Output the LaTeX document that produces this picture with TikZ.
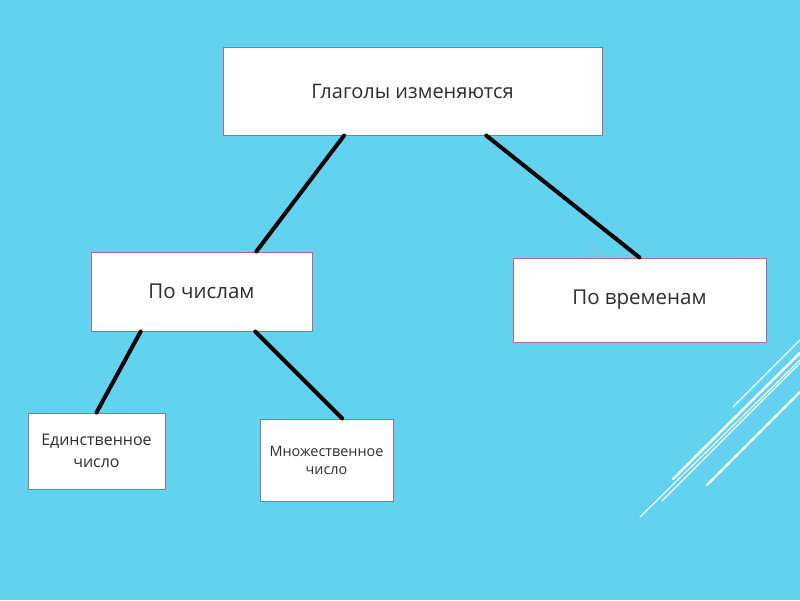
\documentclass[tikz,border=0pt]{standalone}
\usepackage{fontspec}
\setmainfont{Open Sans}
\usepackage{xcolor}
\usetikzlibrary{calc}
\definecolor{Sky}{HTML}{62D3EF}
\definecolor{Plum}{HTML}{B8609A}
\definecolor{Ink}{HTML}{2E2E2E}

\begin{document}
\begin{tikzpicture}[x=1pt,y=-1pt,
    box/.style={draw=Plum,line width=1pt,fill=white,text=Ink,inner sep=0pt,align=center},
    link/.style={line width=4pt,line cap=round,color=black},
    streak/.style={color=white,line cap=round}]
      \useasboundingbox (0,0) rectangle (800,600);
      \clip (0,0) rectangle (800,600);
      \fill[Sky] (0,0) rectangle (800,600);
      % decorative strokes
      \draw[streak,line width=1.1pt] (733,407) -- (800,340);
      \draw[streak,line width=2.5pt] (673,479) -- (800,353);
      \draw[streak,line width=1.1pt] (662,501) -- (800,363);
      \draw[streak,line width=1.1pt] (640,517) -- (800,360);
      \draw[streak,line width=2.2pt] (707,485) -- (800,392);
      \draw[color=gray!55,line width=0.7pt] (588,243) -- (606,257);
      % boxes
      \node[box,minimum width=379pt,minimum height=88pt,font=\fontsize{20}{24}\selectfont] (verbs) at (412.5,91) {Глаголы изменяются};
      \node[box,minimum width=221pt,minimum height=79pt,font=\fontsize{20.5}{24}\selectfont] (num) at (201.5,291.5) {По числам};
      \node[box,minimum width=253pt,minimum height=84pt,font=\fontsize{20.5}{24}\selectfont] (tense) at (639.5,300) {По временам};
      \node[box,minimum width=137pt,minimum height=76pt,font=\fontsize{16}{22}\selectfont] (sing) at (96.5,451) {Единственное\\число};
      \node[box,minimum width=133pt,minimum height=82pt,font=\fontsize{14.4}{18}\selectfont] (plur) at (326.5,460) {Множественное\\число};
      % links
      \draw[link] ($(verbs.south west)!0.32!(verbs.south east)$) -- ($(num.north west)!0.747!(num.north east)$);
      \draw[link] ($(verbs.south west)!0.694!(verbs.south east)$) -- (tense.north);
      \draw[link] ($(num.south west)!0.226!(num.south east)$) -- (sing.north);
      \draw[link] ($(num.south west)!0.742!(num.south east)$) -- ($(plur.north west)!0.617!(plur.north east)$);
    \end{tikzpicture}
\end{document}
